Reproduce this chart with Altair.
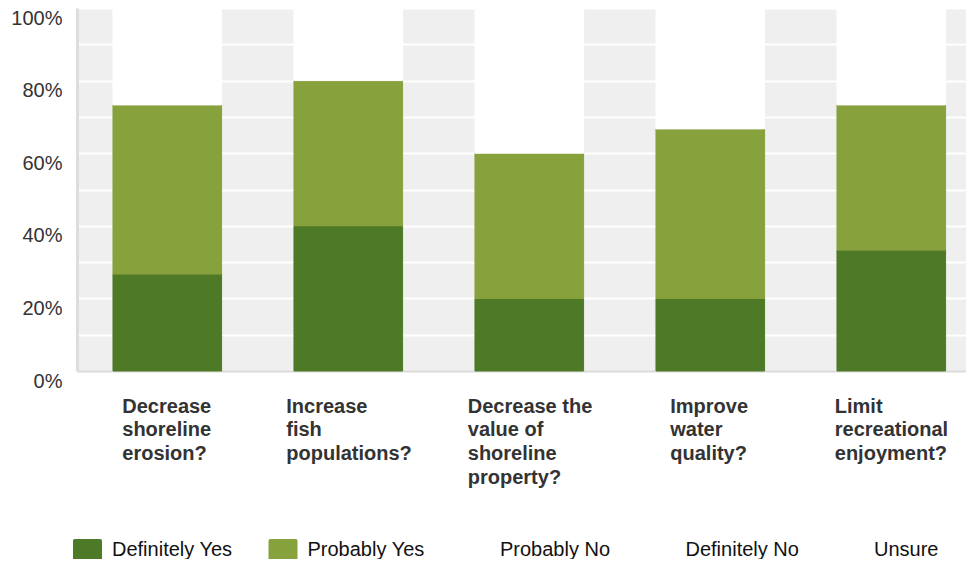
import altair as alt
import pandas as pd

categories = [
    "Decrease|shoreline|erosion?",
    "Increase|fish|populations?",
    "Decrease the|value of|shoreline|property?",
    "Improve|water|quality?",
    "Limit|recreational|enjoyment?",
]
series = ["Definitely Yes", "Probably Yes", "Probably No", "Definitely No", "Unsure"]
colors = ["#4e7a28", "#87a13d", "#ffffff", "#ffffff", "#ffffff"]

definitely_yes = [26.7, 40.0, 20.0, 20.0, 33.3]
probably_yes = [46.6, 40.0, 40.0, 46.7, 40.0]
probably_no = [20.0, 13.3, 26.7, 20.0, 20.0]
definitely_no = [6.7, 0.0, 6.6, 6.7, 0.0]
unsure = [0.0, 6.7, 6.7, 6.6, 6.7]

y_ticks = [0, 10, 20, 30, 40, 50, 60, 70, 80, 90, 100]

rows = []
for s_i, (name, vals) in enumerate(zip(series, [definitely_yes, probably_yes, probably_no, definitely_no, unsure])):
    for c, v in zip(categories, vals):
        rows.append({"question": c, "answer": name, "pct": v, "order": s_i})
df = pd.DataFrame(rows)

# horizontal shift so each multi-line label block is centred on its bar
label_shift = {
    categories[0]: -45,
    categories[1]: -62,
    categories[2]: -61.5,
    categories[3]: -40,
    categories[4]: -56.5,
}
shift_expr = "{" + ",".join(f"'{k}':{v}" for k, v in label_shift.items()) + "}[datum.value]"

swatch = ("M-0.88,-0.75 H0.88 Q1,-0.75 1,-0.63 V0.63 Q1,0.75 0.88,0.75 "
          "H-0.88 Q-1,0.75 -1,0.63 V-0.63 Q-1,-0.75 -0.88,-0.75 Z")

chart = alt.Chart(df).mark_bar(strokeWidth=1).encode(
    x=alt.X(
        "question:N",
        sort=categories,
        title=None,
        scale=alt.Scale(paddingInner=0.4, paddingOuter=0.1558, align=0.638),
        axis=alt.Axis(
            labelAngle=0,
            labelAlign="left",
            labelBaseline="top",
            labelExpr="split(datum.label, '|')",
            labelFont="Liberation Sans",
            labelFontWeight="bold",
            labelFontSize=20,
            labelLineHeight=23.7,
            labelColor="#333333",
            labelPadding=25,
            labelLimit=0,
            labelOverlap=False,
            labelOffset={"expr": shift_expr},
            ticks=False,
            tickSize=0,
            domainColor="#d9d9d9",
            domainWidth=2,
        ),
    ),
    y=alt.Y(
        "pct:Q",
        title=None,
        stack="zero",
        scale=alt.Scale(domain=[0, 100], nice=False),
        axis=alt.Axis(
            values=y_ticks,
            labelExpr="round(datum.value / 10) % 2 == 0 ? datum.value + '%' : ''",
            labelFont="Liberation Sans",
            labelFontSize=20,
            labelColor="#333333",
            labelBaseline="top",
            labelPadding=15,
            ticks=False,
            tickSize=0,
            grid=True,
            gridColor="#ffffff",
            gridWidth=2,
            domainColor="#dddddd",
            domainWidth=3,
        ),
    ),
    color=alt.Color(
        "answer:N",
        sort=series,
        scale=alt.Scale(domain=series, range=colors),
        legend=alt.Legend(
            title=None,
            orient="none",
            direction="horizontal",
            columns=5,
            legendX=-4,
            legendY=527,
            symbolType=swatch,
            symbolSize=841,
            symbolStrokeWidth=0,
            symbolOpacity=1,
            labelFont="Liberation Sans",
            labelFontSize=20,
            labelColor="#111111",
            labelOffset=10,
            columnPadding=35.5,
            padding=0,
        ),
    ),
    stroke=alt.Stroke(
        "answer:N",
        sort=series,
        scale=alt.Scale(domain=series, range=colors),
        legend=None,
    ),
    order=alt.Order("order:Q", sort="ascending"),
).properties(
    width=889,
    height=363,
    autosize=alt.AutoSizeParams(type="none"),
    padding={"left": 69, "top": 0, "right": 0, "bottom": 188},
).configure_view(
    fill="#efefef",
    strokeWidth=0,
)

chart.save("out.html", embed_options={"renderer": "svg", "actions": False})
